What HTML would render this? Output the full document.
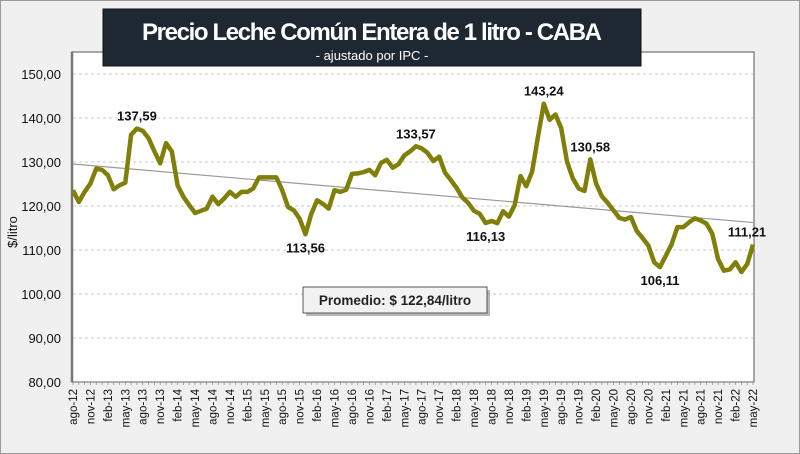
<!DOCTYPE html>
<html><head><meta charset="utf-8">
<style>
html,body{margin:0;padding:0;background:#f0f0f0;}
#wrap{position:relative;width:798px;height:452px;border:1px solid #9a9a9a;background:#f0f0f0;overflow:hidden;font-family:"Liberation Sans",sans-serif;}
</style></head>
<body>
<div id="wrap">
<svg id="chart" width="800" height="454" style="position:absolute;left:-1px;top:-1px"></svg>
</div>
<script>
const months = ["ago","sep","oct","nov","dic","ene","feb","mar","abr","may","jun","jul"];
const startYear = 12;
const values = [123.6,120.9,123.2,125.1,128.5,128.2,127.0,123.8,124.7,125.3,
136.2,137.59,137.1,135.4,132.4,129.7,134.3,132.4,124.7,122.1,
120.2,118.4,118.9,119.4,122.1,120.4,121.7,123.2,122.1,123.2,
123.2,124.0,126.5,126.5,126.5,126.5,123.6,119.8,119.0,117.1,
113.56,118.2,121.3,120.5,119.4,123.6,123.2,123.7,127.3,127.4,
127.7,128.2,127.0,129.8,130.5,128.7,129.5,131.5,132.4,133.57,
133.1,132.1,130.2,131.2,127.6,125.9,124.1,121.9,120.7,118.9,
118.2,116.13,116.6,116.1,118.8,117.6,120.2,126.8,124.5,127.8,
135.8,143.24,139.6,140.8,137.7,130.1,126.3,124.0,123.4,130.58,
125.1,122.2,120.7,119.0,117.3,116.9,117.5,114.3,112.7,111.0,
107.2,106.11,108.7,111.3,115.2,115.2,116.3,117.2,116.7,116.0,
113.7,107.9,105.3,105.6,107.2,105.0,106.8,111.21];
const yTicks = [80,90,100,110,120,130,140,150];
const annotated = [11,40,59,71,81,89,101,117];
const average = 122.84;

const svg = document.getElementById('chart');
const NS = "http://www.w3.org/2000/svg";
const X0 = 73, X1 = 753, Y0 = 382, Y1 = 74;
function xs(i){ return X0 + (X1 - X0) * i / (values.length - 1); }
function ys(v){ return Y0 - (v - 80) * (Y0 - Y1) / 70; }
function mk(tag, attrs, parent){
  const e = document.createElementNS(NS, tag);
  for (const k in attrs) e.setAttribute(k, attrs[k]);
  (parent || svg).appendChild(e);
  return e;
}
function fmt(v){ return v.toFixed(2).replace('.', ','); }

// plot area
const plot = mk('rect', {x:72, y:52, width:682, height:330, fill:'#ffffff', stroke:'#555', 'stroke-width':1});


mk('line', {x1:72, y1:52, x2:72, y2:382, stroke:'#777', 'stroke-width':2.5});

// gridlines + y labels
yTicks.forEach(t => {
  if (t > 80) {
    const g = mk('line', {x1:73, y1:ys(t), x2:753, y2:ys(t), stroke:'#c8c8c8', 'stroke-dasharray':'3,3', 'stroke-width':1});
    
    
  }
  const tx = mk('text', {x:61, y:ys(t) + 5, 'text-anchor':'end', 'font-size':13, fill:'#111'});
  tx.textContent = fmt(t);
  
  
});

// x axis ticks and labels
mk('line', {x1:72, y1:382, x2:754, y2:382, stroke:'#666', 'stroke-width':1});
values.forEach((v, i) => {
  mk('line', {x1:xs(i), y1:382, x2:xs(i), y2:385, stroke:'#888', 'stroke-width':0.7});
  if (i % 3 === 0) {
    const mIdx = i % 12;
    const yr = startYear + Math.floor((i + 7) / 12);
    const lbl = months[mIdx] + '-' + yr;
    const tx = mk('text', {x:0, y:0, 'text-anchor':'end', 'font-size':11.5, fill:'#111',
      transform:'translate(' + (xs(i) + 4) + ',389) rotate(-90)'});
    tx.textContent = lbl;
    
    
  }
});

// trend line (least squares)
const n = values.length;
let sx = 0, sy = 0, sxy = 0, sxx = 0;
values.forEach((v, i) => { sx += i; sy += v; sxy += i * v; sxx += i * i; });
const slope = (n * sxy - sx * sy) / (n * sxx - sx * sx);
const icpt = (sy - slope * sx) / n;
const tr = mk('line', {x1:xs(0), y1:ys(icpt), x2:xs(n - 1), y2:ys(icpt + slope * (n - 1)), stroke:'#9a9a9a', 'stroke-width':1.2});



// series
const pts = values.map((v, i) => xs(i).toFixed(1) + ',' + ys(v).toFixed(1)).join(' ');
const line = mk('polyline', {points:pts, fill:'none', stroke:'#7f7f0a', 'stroke-width':4.5, 'stroke-linejoin':'round'});



// annotations
annotated.forEach(i => {
  const v = values[i];
  const prev = values[i - 1], next = values[i + 1];
  const isMin = (next === undefined) ? false : (v < prev && v < next);
  let y = isMin ? ys(v) + 18 : ys(v) - 8;
  let x = xs(i);
  if (i === n - 1) { x -= 6; y = ys(v) - 8; }
  const tx = mk('text', {x:x, y:y, 'text-anchor':'middle', 'font-size':13, 'font-weight':'bold', fill:'#111'});
  tx.textContent = fmt(v);
  
  
});

// y axis title
const yt = mk('text', {x:0, y:0, 'text-anchor':'middle', 'font-size':13, fill:'#111', transform:'translate(17,232) rotate(-90)'});
yt.textContent = '$/litro';



// average box
mk('rect', {x:306, y:290, width:184, height:26, fill:'#888', opacity:0.6});
const box = mk('rect', {x:303, y:287, width:184, height:26, fill:'#f2f2f2', stroke:'#555', 'stroke-width':1});


const at = mk('text', {x:395, y:305, 'text-anchor':'middle', 'font-size':13.5, 'font-weight':'bold', fill:'#222'});
at.textContent = 'Promedio: $ ' + fmt(average) + '/litro';



// title box
const tb = mk('rect', {x:103, y:9, width:316 * 1.7, height:57, fill:'#1e2833', stroke:'#111', 'stroke-width':1});
tb.setAttribute('x', 103); tb.setAttribute('width', 538);


const t1 = mk('text', {x:372, y:40, 'text-anchor':'middle', 'font-size':24, 'font-weight':'bold', fill:'#ffffff',
  'font-family':'"Liberation Sans Narrow","Liberation Sans",sans-serif', textLength:460});
t1.textContent = 'Precio Leche Común Entera de 1 litro - CABA';


const t2 = mk('text', {x:372, y:60, 'text-anchor':'middle', 'font-size':13, fill:'#ffffff',
  'font-family':'"Liberation Sans Narrow","Liberation Sans",sans-serif'});
t2.textContent = '- ajustado por IPC -';


</script>
</body></html>
